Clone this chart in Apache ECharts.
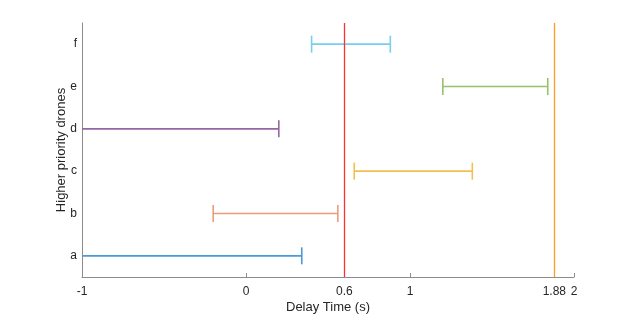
<!DOCTYPE html>
<html><head><meta charset="utf-8">
<script src="https://cdn.jsdelivr.net/npm/echarts@6/dist/echarts.min.js"></script>
<style>html,body{margin:0;padding:0;background:#fff}#c{width:634px;height:316px}</style>
</head><body><div id="c"></div>
<script>
const categories = ['a','b','c','d','e','f'];
const startValues = [-1, -0.20, 0.66, -1, 1.20, 0.40];
const endValues = [0.34, 0.56, 1.38, 0.20, 1.84, 0.88];
const barColors = ['#4a9ad8','#eb9b7c','#f2c052','#9565a4','#99c06a','#79cdf0'];
const xTicks = [-1, 0, 0.6, 1, 1.88, 2];
const refLines = [0.6, 1.88];
const refColors = ['#ff3030','#ff9d1e'];
const xMin = -1, xMax = 2;

const data = categories.map((c, i) => ({value: [i, startValues[i], endValues[i]], itemStyle: {color: barColors[i]}}));
const font = '"Liberation Sans", Arial, sans-serif';
const chart = echarts.init(document.getElementById('c'));
chart.setOption({
  animation: false,
  grid: {left: 82, right: 60, top: 23, bottom: 39, outerBoundsMode: 'none', containLabel: false},
  xAxis: {
    type: 'value', min: xMin, max: xMax,
    name: 'Delay Time (s)', nameLocation: 'middle', nameGap: 24, nameMoveOverlap: false,
    nameTextStyle: {fontFamily: font, fontSize: 13, color: '#262626'},
    axisLine: {show: true, onZero: false, lineStyle: {color: '#8c8c8c'}},
    axisTick: {show: true, inside: true, length: 4, lineStyle: {color: '#8c8c8c'}, customValues: xTicks},
    axisLabel: {customValues: xTicks, fontFamily: font, fontSize: 12, color: '#262626', margin: 9,
      formatter: v => String(v)},
    splitLine: {show: false}
  },
  yAxis: {
    type: 'category', data: categories,
    name: 'Higher priority drones', nameLocation: 'middle', nameGap: 14, nameMoveOverlap: false,
    nameTextStyle: {fontFamily: font, fontSize: 13, color: '#262626'},
    axisLine: {show: true, onZero: false, lineStyle: {color: '#8c8c8c'}},
    axisTick: {inside: true, alignWithLabel: true, length: 4, lineStyle: {color: '#8c8c8c'}},
    axisLabel: {fontFamily: font, fontSize: 12, color: '#262626', margin: 5},
    splitLine: {show: false}
  },
  series: [{
    type: 'custom',
    data: data,
    encode: {y: 0, x: [1, 2]},
    z: 1,
    renderItem: function (params, api) {
      const y = api.value(0);
      const p1 = api.coord([api.value(1), y]);
      const p2 = api.coord([api.value(2), y]);
      const h = 8.5;
      const color = api.visual('color');
      const style = {stroke: color, lineWidth: 1.6, fill: null};
      const children = [
        {type: 'line', shape: {x1: p1[0], y1: p1[1], x2: p2[0], y2: p2[1]}, style: style},
        {type: 'line', shape: {x1: p2[0], y1: p2[1]-h, x2: p2[0], y2: p2[1]+h}, style: style}
      ];
      if (api.value(1) > xMin) {
        children.push({type: 'line', shape: {x1: p1[0], y1: p1[1]-h, x2: p1[0], y2: p1[1]+h}, style: style});
      }
      return {type: 'group', children: children};
    },
    markLine: {
      silent: true, symbol: 'none', label: {show: false},
      data: refLines.map((v, i) => ({xAxis: v, lineStyle: {color: refColors[i], type: 'solid', width: 1.3}}))
    }
  }]
});
</script></body></html>
